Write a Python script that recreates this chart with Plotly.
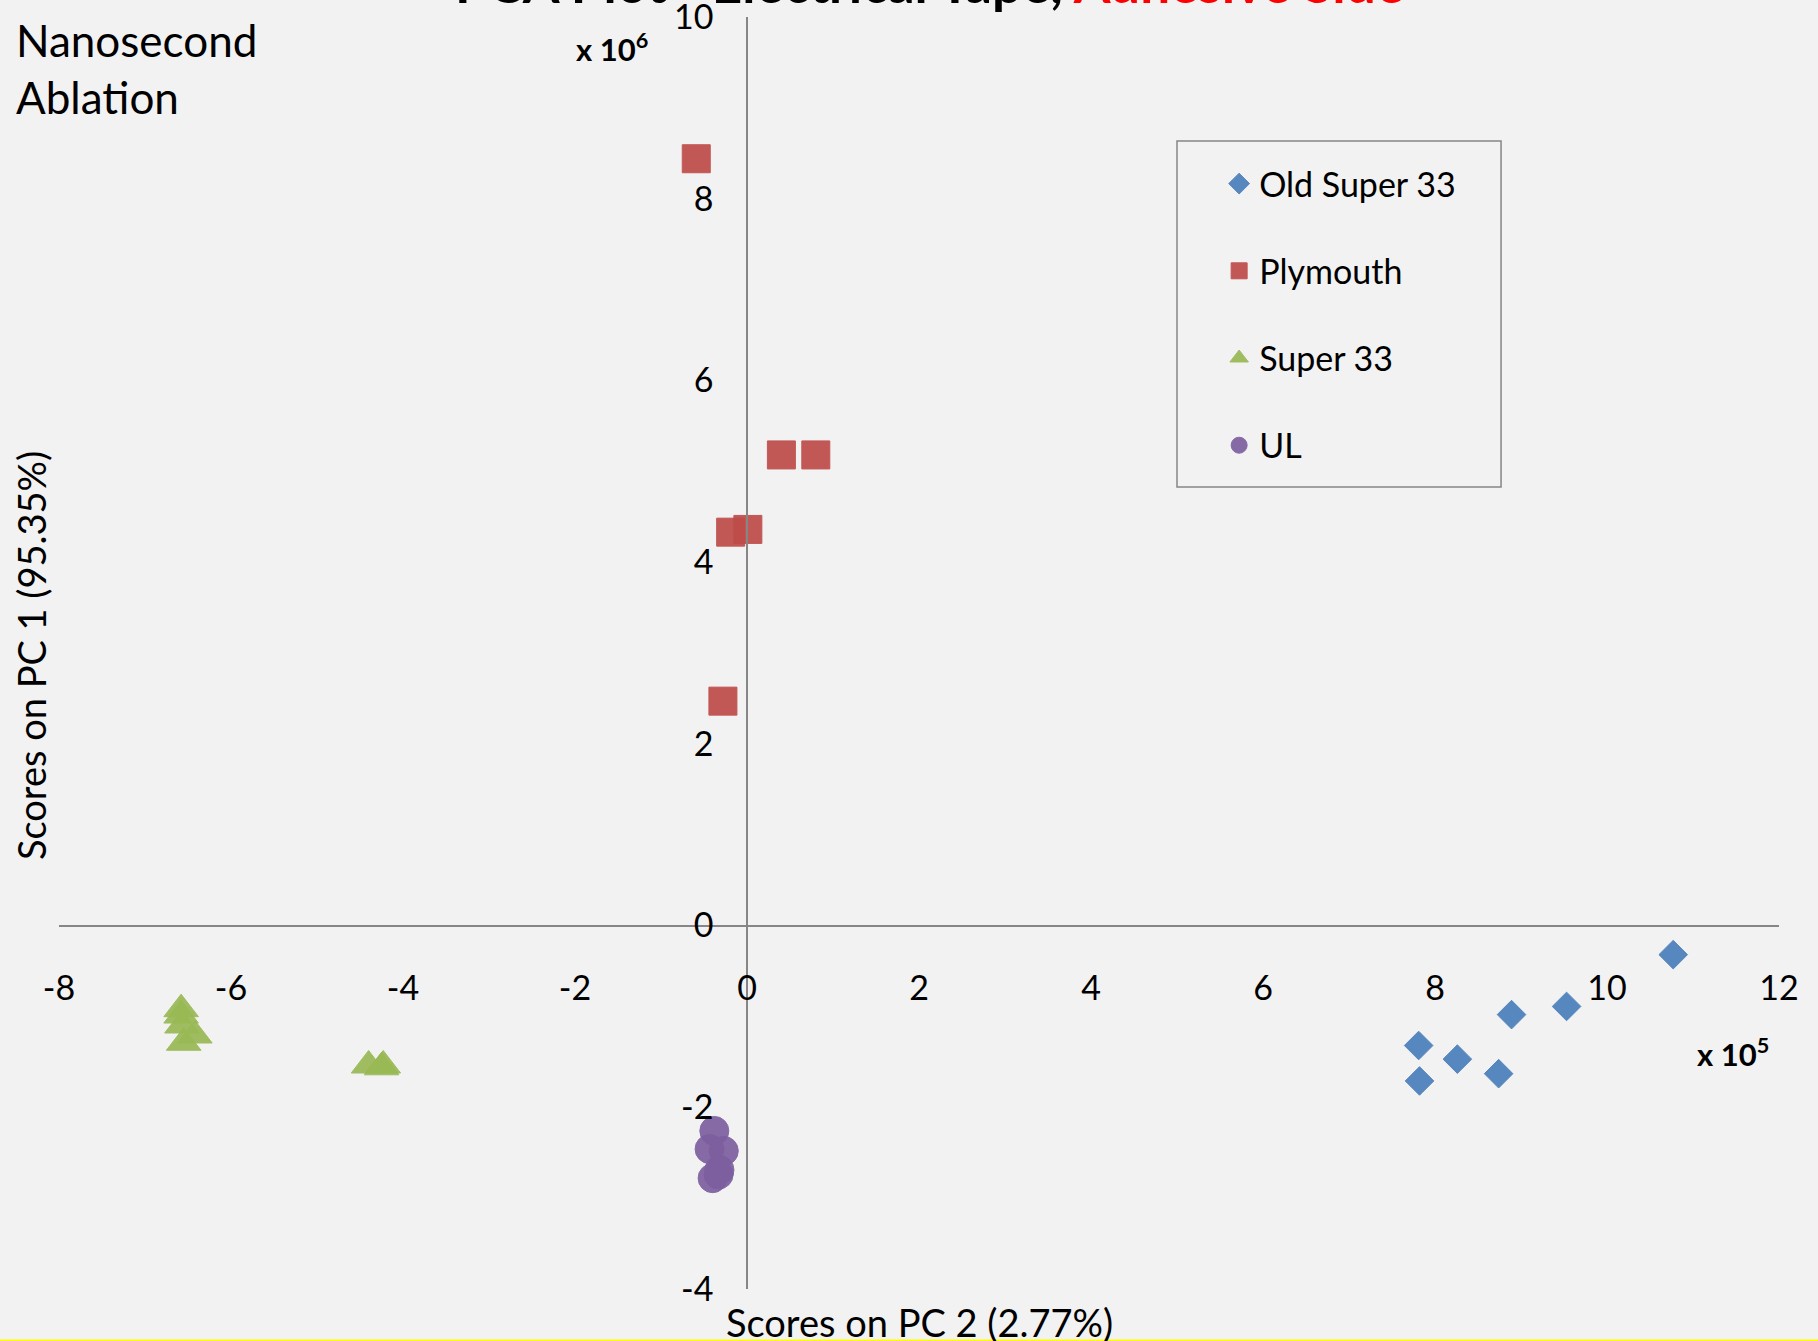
import plotly.graph_objects as go

# ---- data (x in units of 1e5, y in units of 1e6) ----
old_super33_x = [10.77, 8.89, 9.53, 7.81, 8.26, 8.74, 7.82]
old_super33_y = [-0.32, -0.98, -0.89, -1.32, -1.47, -1.63, -1.71]

plymouth_x = [-0.59, 0.40, 0.80, -0.19, 0.01, -0.28]
plymouth_y = [8.44, 5.18, 5.18, 4.33, 4.36, 2.47]

super33_x = [-6.58, -6.58, -6.57, -6.42, -6.55, -4.40, -4.23, -4.25]
super33_y = [-0.92, -0.99, -1.10, -1.21, -1.29, -1.54, -1.54, -1.56]

ul_x = [-0.38, -0.435, -0.27, -0.32, -0.40, -0.33]
ul_y = [-2.26, -2.46, -2.48, -2.69, -2.78, -2.74]

series_names = ["Old Super 33", "Plymouth", "Super 33", "UL"]
x_ticks = [-8, -6, -4, -2, 0, 2, 4, 6, 8, 10, 12]
y_ticks = [-4, -2, 0, 2, 4, 6, 8, 10]

FONT = "Lato"
BG = "#f2f2f2"
AXIS = "#868686"

fig = go.Figure()
styles = [
    (old_super33_x, old_super33_y, "diamond", "#4a7ebb", 22),
    (plymouth_x, plymouth_y, "square", "#be4b48", 28),
    (super33_x, super33_y, "triangle-up", "#98b954", 30),
    (ul_x, ul_y, "circle", "#7d5fa0", 29),
]
for name, (xs, ys, sym, col, sz) in zip(series_names, styles):
    fig.add_trace(go.Scatter(
        x=xs, y=ys, mode="markers", name=name, legendgroup=name,
        marker=dict(symbol=sym, color=col, size=sz, opacity=0.92,
                    line=dict(width=1, color=col)),
    ))

fig.update_layout(
    width=1818, height=1341,
    paper_bgcolor=BG, plot_bgcolor=BG,
    margin=dict(l=59, r=39, t=17, b=52),
    font=dict(family=FONT, size=34, color="black"),
    showlegend=True,
    legend=dict(
        x=0.6745, y=0.8915, xanchor="left", yanchor="top",
        bgcolor="rgba(0,0,0,0)", borderwidth=0,
        font=dict(family=FONT, size=34, color="black"),
        tracegroupgap=40, traceorder="grouped",
        itemsizing="trace",
    ),
    xaxis=dict(
        range=[-8, 12], tickvals=x_ticks, ticktext=[str(v) for v in x_ticks],
        showgrid=False, zeroline=False, showline=True, linecolor=AXIS, linewidth=1.5,
        anchor="free", position=4 / 14, ticks="", ticklabelstandoff=33,
        ticklabeloverflow="allow",
        tickfont=dict(family=FONT, size=34, color="black"), automargin=False,
    ),
    yaxis=dict(
        range=[-4, 10], tickvals=y_ticks, ticktext=[str(v) for v in y_ticks],
        showgrid=False, zeroline=False, showline=True, linecolor=AXIS, linewidth=1.5,
        anchor="free", position=8 / 20, ticks="", ticklabelstandoff=26,
        ticklabeloverflow="allow",
        tickfont=dict(family=FONT, size=34, color="black"), automargin=False,
    ),
    shapes=[
        dict(type="rect", xref="paper", yref="paper", x0=0.650, x1=0.8384,
             y0=0.6305, y1=0.9025, line=dict(color=AXIS, width=1.5)),
        dict(type="line", xref="paper", yref="paper", x0=-0.05, x1=1.05,
             y0=-0.0405, y1=-0.0405, line=dict(color="#ffff00", width=2)),
    ],
    annotations=[
        dict(text="PCA Plot - Electrical Tape, <span style='color:#ff0000'>Adhesive Side</span>",
             xref="paper", yref="paper", x=0.506, y=1.0271, xanchor="center", yanchor="middle",
             showarrow=False, font=dict(family=FONT, size=53, color="black", weight="bold")),
        dict(text="Nanosecond<br>Ablation", xref="paper", yref="paper", x=-0.026, y=1.004,
             xanchor="left", yanchor="top", align="left", showarrow=False,
             font=dict(family=FONT, size=44, color="black")),
        dict(text="<b>x 10<sup>6</sup></b>", xref="paper", yref="paper", x=0.3215, y=0.976,
             xanchor="center", yanchor="middle", showarrow=False,
             font=dict(family=FONT, size=31, color="black")),
        dict(text="<b>x 10<sup>5</sup></b>", xref="paper", yref="paper", x=0.973, y=0.1863,
             xanchor="center", yanchor="middle", showarrow=False,
             font=dict(family=FONT, size=31, color="black")),
        dict(text="Scores on PC 1 (95.35%)", xref="paper", yref="paper", x=-0.0163, y=0.4984,
             xanchor="center", yanchor="middle", textangle=-90, showarrow=False,
             font=dict(family=FONT, size=38, color="black")),
        dict(text="Scores on PC 2 (2.77%)", xref="paper", yref="paper", x=0.5, y=-0.026,
             xanchor="center", yanchor="middle", showarrow=False,
             font=dict(family=FONT, size=38, color="black")),
    ],
)

fig.write_html(
    "out.html",
    config={"displayModeBar": False},
    post_script="document.body.style.margin='0';document.body.style.overflow='hidden';",
)
